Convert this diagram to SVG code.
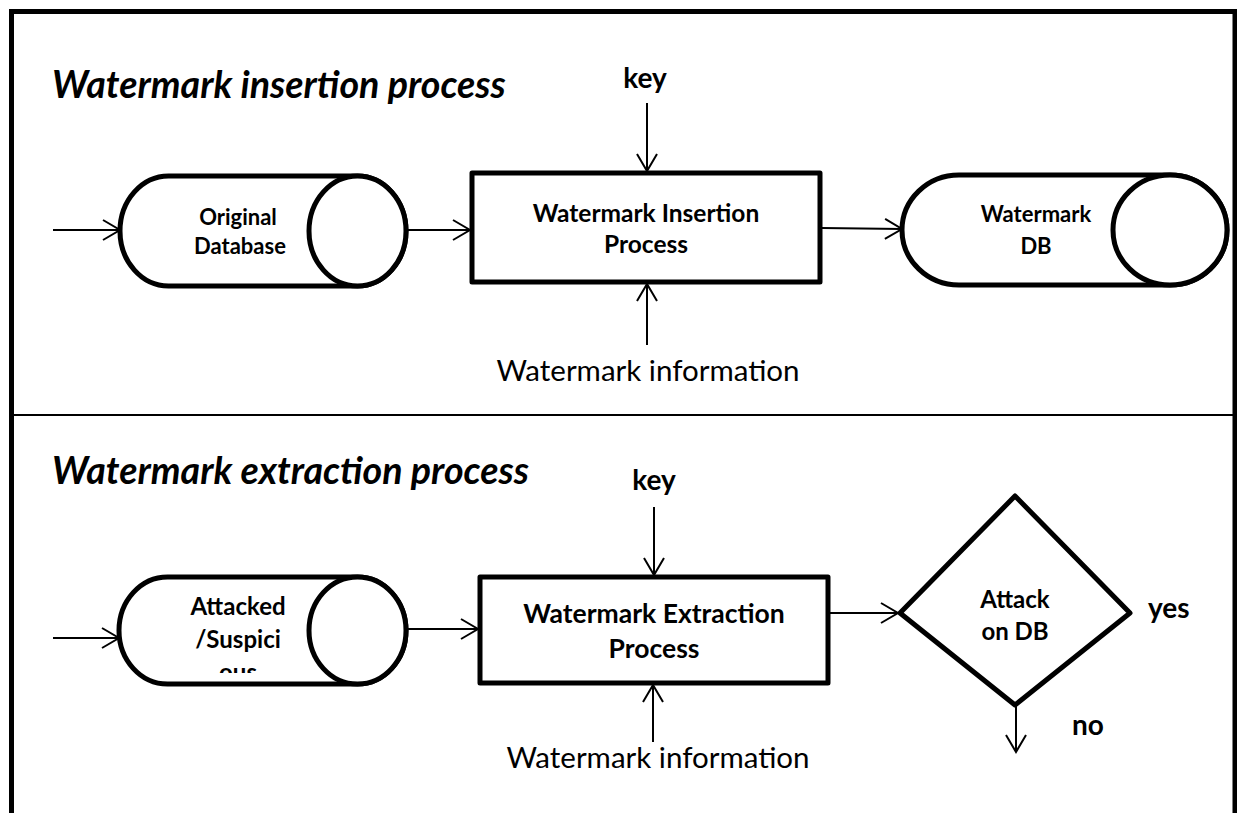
<svg xmlns="http://www.w3.org/2000/svg" width="1237" height="813" viewBox="0 0 1237 813">
  <style>
    .shape { fill: #fff; stroke: #000; stroke-width: 5; stroke-linejoin: round; }
    .wire { fill: none; stroke: #000; stroke-width: 2; }
    .title { font-family: Lato, "Liberation Sans", sans-serif; font-weight: bold; font-style: italic; font-size: 37.6px; fill: #000; }
    .node { font-family: Lato, "Liberation Sans", sans-serif; font-weight: bold; font-size: 22px; fill: #000; text-anchor: middle; }
    .node-lg { font-family: Lato, "Liberation Sans", sans-serif; font-weight: bold; font-size: 24px; fill: #000; text-anchor: middle; }
    .proc { font-family: Lato, "Liberation Sans", sans-serif; font-weight: bold; font-size: 24.5px; fill: #000; text-anchor: middle; }
    .proc-lg { font-family: Lato, "Liberation Sans", sans-serif; font-weight: bold; font-size: 26.5px; fill: #000; text-anchor: middle; }
    .lbl { font-family: Lato, "Liberation Sans", sans-serif; font-weight: bold; font-size: 28px; fill: #000; }
    .info { font-family: Lato, "Liberation Sans", sans-serif; font-size: 29.5px; fill: #000; text-anchor: middle; }
  </style>
  <defs>
    <marker id="arrow" markerUnits="userSpaceOnUse" markerWidth="22" markerHeight="24" viewBox="0 0 22 24" refX="19" refY="12" orient="auto">
      <path d="M 2 2 L 19 12 L 2 22" fill="none" stroke="#000" stroke-width="2"/>
    </marker>
    <clipPath id="clip-attacked">
      <rect x="120" y="560" width="200" height="113"/>
    </clipPath>
  </defs>

  <rect x="0" y="0" width="1237" height="813" fill="#fff"/>

  <!-- frame and section divider -->
  <g id="frame">
    <path d="M 11.5 813 V 11.5 H 1235 V 813" fill="none" stroke="#000" stroke-width="5"/>
    <line x1="12" y1="415" x2="1234" y2="415" stroke="#000" stroke-width="2"/>
  </g>

  <text id="title-insertion" class="title" x="52" y="98">Watermark insertion process</text>
  <text id="title-extraction" class="title" x="52" y="484">Watermark extraction process</text>

  <!-- connectors -->
  <g id="connectors">
    <line class="wire" x1="53" y1="230" x2="120" y2="230" marker-end="url(#arrow)"/>
    <line class="wire" x1="370" y1="230" x2="470" y2="230" marker-end="url(#arrow)"/>
    <line class="wire" x1="647" y1="103" x2="647" y2="171" marker-end="url(#arrow)"/>
    <line class="wire" x1="647" y1="345" x2="647" y2="284" marker-end="url(#arrow)"/>
    <line class="wire" x1="822" y1="228" x2="902" y2="229" marker-end="url(#arrow)"/>

    <line class="wire" x1="53" y1="638" x2="119" y2="638" marker-end="url(#arrow)"/>
    <line class="wire" x1="406" y1="629" x2="478" y2="629" marker-end="url(#arrow)"/>
    <line class="wire" x1="654" y1="507" x2="654" y2="575" marker-end="url(#arrow)"/>
    <line class="wire" x1="653" y1="742" x2="653" y2="685" marker-end="url(#arrow)"/>
    <line class="wire" x1="830" y1="613" x2="898" y2="613" marker-end="url(#arrow)"/>
    <line class="wire" x1="1016" y1="705" x2="1016" y2="752" marker-end="url(#arrow)"/>
  </g>

  <!-- insertion stage -->
  <g id="original-db">
    <path class="shape" d="M 168.5 176 H 357.5 A 48.5 55 0 0 1 357.5 286 H 168.5 A 48.5 55 0 0 1 168.5 176 Z"/>
    <ellipse class="shape" cx="357.5" cy="231" rx="48.5" ry="55"/>
    <text class="node" x="238" y="225">Original</text>
    <text class="node" x="240" y="254">Database</text>
  </g>

  <g id="insertion-process">
    <rect class="shape" x="472" y="173" width="348" height="109" stroke-linejoin="miter"/>
    <text class="proc" x="646" y="222">Watermark Insertion</text>
    <text class="proc" x="646" y="253">Process</text>
  </g>

  <g id="key-insertion">
    <text class="lbl" x="645" y="88" text-anchor="middle">key</text>
  </g>

  <g id="info-insertion">
    <text class="info" x="648" y="381">Watermark information</text>
  </g>

  <g id="watermark-db">
    <path class="shape" d="M 959 175 H 1170 A 57 55 0 0 1 1170 285 H 959 A 57 55 0 0 1 959 175 Z"/>
    <ellipse class="shape" cx="1170" cy="230" rx="57" ry="55"/>
    <text class="node" x="1036" y="222">Watermark</text>
    <text class="node" x="1036" y="254">DB</text>
  </g>

  <!-- extraction stage -->
  <g id="attacked-db">
    <path class="shape" d="M 167.5 577 H 357.5 A 48.5 53.5 0 0 1 357.5 684 H 167.5 A 48.5 53.5 0 0 1 167.5 577 Z"/>
    <ellipse class="shape" cx="357.5" cy="630.5" rx="48.5" ry="53.5"/>
    <g clip-path="url(#clip-attacked)">
      <text class="node-lg" x="238" y="615">Attacked</text>
      <text class="node-lg" x="238" y="648">/Suspici</text>
      <text class="node-lg" x="238" y="681">ous</text>
    </g>
  </g>

  <g id="extraction-process">
    <rect class="shape" x="480" y="577" width="348" height="106" stroke-linejoin="miter"/>
    <text class="proc-lg" x="654" y="623">Watermark Extraction</text>
    <text class="proc-lg" x="654" y="658">Process</text>
  </g>

  <g id="key-extraction">
    <text class="lbl" x="654" y="490" text-anchor="middle">key</text>
  </g>

  <g id="info-extraction">
    <text class="info" x="658" y="768">Watermark information</text>
  </g>

  <g id="attack-decision">
    <path class="shape" d="M 1015 496 L 1130 613 L 1015 705 L 900 613 Z" stroke-linejoin="miter"/>
    <text class="node-lg" x="1015" y="608">Attack</text>
    <text class="node-lg" x="1015" y="640">on DB</text>
  </g>

  <text id="label-yes" class="lbl" x="1148" y="618">yes</text>
  <text id="label-no" class="lbl" x="1072" y="735">no</text>
</svg>
